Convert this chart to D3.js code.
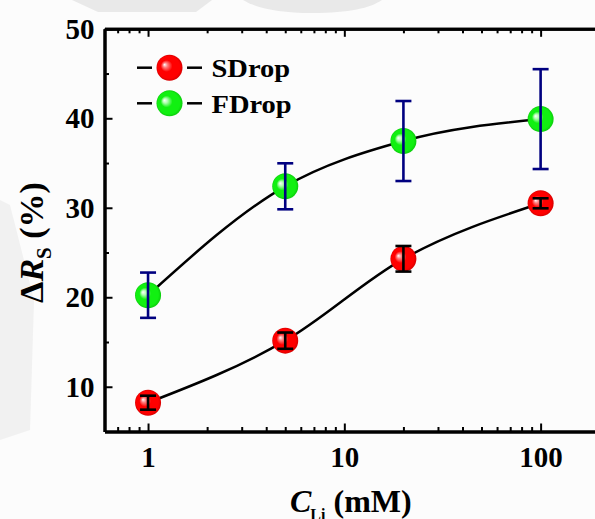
<!DOCTYPE html>
<html>
<head>
<meta charset="utf-8">
<script src="https://cdn.jsdelivr.net/npm/d3@7"></script>
<style>
  html, body { margin: 0; padding: 0; background: #fcfcfc; }
  svg { display: block; }
  text { font-family: "Liberation Serif", "Times New Roman", serif; font-weight: bold; fill: #000; }
</style>
</head>
<body>
<svg id="chart" width="595" height="519"></svg>
<script>
// Li concentration (mM) and the relative change of the sheet resistance (%)
const concentrations = [1, 5, 20, 100];
const sdropValues = [8.22, 15.15, 24.3, 30.5];
const sdropErrors = [0.78, 0.91, 1.43, 0.56];
const fdropValues = [20.23, 32.4, 37.46, 39.91];
const fdropErrors = [2.53, 2.57, 4.47, 5.58];
const seriesNames = ["SDrop", "FDrop"];
const xTickValues = [1, 10, 100];
const xMinorTicks = [0.7, 0.8, 0.9, 2, 3, 4, 5, 6, 7, 8, 9, 20, 30, 40, 50, 60, 70, 80, 90];
const yTickValues = [10, 20, 30, 40, 50];
const yMinorTicks = [15, 25, 35, 45];

const plotLeft = 104.5, plotRight = 599.7, plotTop = 28.8, plotBottom = 431.5;

const svg = d3.select("#chart");

// faint backdrop shapes behind the plot
const backdrop = svg.append("g").attr("fill", "#e9e9e9");
backdrop.append("path").attr("d", "M72,0 L212,0 L196,12 L98,12 Z");
backdrop.append("path").attr("d", "M243,0 L382,0 C370,8 350,13 312,13 C278,13 256,8 243,0 Z");
backdrop.append("path").attr("d", "M0,200 L10,205 L34,300 L30,430 L0,440 Z").attr("opacity", 0.6);

const x = d3.scaleLog().domain([0.6, 200]).range([plotLeft, plotRight]);
const y = d3.scaleLinear().domain([5, 50]).range([plotBottom, plotTop]);

const fmt = d => String(d);

// sphere shading
const defs = svg.append("defs");
function sphere(id, light, base, edge) {
  const g = defs.append("radialGradient").attr("id", id)
    .attr("cx", "50%").attr("cy", "50%").attr("r", "50%")
    .attr("fx", "30%").attr("fy", "38%");
  g.append("stop").attr("offset", "0%").attr("stop-color", "#ffffff");
  g.append("stop").attr("offset", "18%").attr("stop-color", light);
  g.append("stop").attr("offset", "45%").attr("stop-color", base);
  g.append("stop").attr("offset", "85%").attr("stop-color", base);
  g.append("stop").attr("offset", "100%").attr("stop-color", edge);
}
sphere("ballRed", "#ff8080", "#ff0000", "#d80000");
sphere("ballGreen", "#b0ffb0", "#11f011", "#0ccc0c");

const series = [
  { name: seriesNames[0], values: sdropValues, errors: sdropErrors, fill: "url(#ballRed)", errColor: "#000000" },
  { name: seriesNames[1], values: fdropValues, errors: fdropErrors, fill: "url(#ballGreen)", errColor: "#000080" }
];

// axes: ticks point inward on all sides
function styleAxis(g) {
  g.select(".domain").attr("stroke", "#000").attr("stroke-width", 3);
  g.selectAll(".tick line").attr("stroke", "#000").attr("stroke-width", 2);
  g.selectAll(".tick text").style("font-size", "29px").attr("font-family", null);
}

const xAxis = svg.append("g").attr("transform", `translate(0,${plotBottom})`)
  .call(d3.axisBottom(x).tickValues(xTickValues).tickFormat(fmt).tickSize(-8).tickSizeOuter(0).tickPadding(15));
styleAxis(xAxis);
const xMinor = svg.append("g").attr("transform", `translate(0,${plotBottom})`)
  .call(d3.axisBottom(x).tickValues(xMinorTicks).tickFormat("").tickSize(-4.5).tickSizeOuter(0));
styleAxis(xMinor);

const xTop = svg.append("g").attr("transform", `translate(0,${plotTop})`)
  .call(d3.axisTop(x).tickValues(xTickValues).tickFormat("").tickSize(-8).tickSizeOuter(0));
styleAxis(xTop);
const xTopMinor = svg.append("g").attr("transform", `translate(0,${plotTop})`)
  .call(d3.axisTop(x).tickValues(xMinorTicks).tickFormat("").tickSize(-4.5).tickSizeOuter(0));
styleAxis(xTopMinor);

const yAxis = svg.append("g").attr("transform", `translate(${plotLeft},0)`)
  .call(d3.axisLeft(y).tickValues(yTickValues).tickFormat(fmt).tickSize(-8).tickSizeOuter(0).tickPadding(10));
styleAxis(yAxis);
const yMinor = svg.append("g").attr("transform", `translate(${plotLeft},0)`)
  .call(d3.axisLeft(y).tickValues(yMinorTicks).tickFormat("").tickSize(-4.5).tickSizeOuter(0));
styleAxis(yMinor);

// right frame edge
svg.append("line").attr("x1", plotRight).attr("x2", plotRight).attr("y1", plotTop).attr("y2", plotBottom)
  .attr("stroke", "#000").attr("stroke-width", 3);

// fitted curves
const line = d3.line().x(d => x(d[0])).y(d => y(d[1])).curve(d3.curveMonotoneX);
series.forEach(s => {
  svg.append("path")
    .datum(concentrations.map((c, i) => [c, s.values[i]]))
    .attr("d", line).attr("fill", "none").attr("stroke", "#000").attr("stroke-width", 2.5);
});

// markers and error bars
const R = 13, cap = 8;
series.forEach(s => {
  const g = svg.append("g");
  concentrations.forEach((c, i) => {
    const cx = x(c), cy = y(s.values[i]);
    g.append("circle").attr("cx", cx).attr("cy", cy).attr("r", R).attr("fill", s.fill);
    const y1 = y(s.values[i] + s.errors[i]), y2 = y(s.values[i] - s.errors[i]);
    const eg = g.append("g").attr("stroke", s.errColor).attr("stroke-width", 2.6);
    eg.append("line").attr("x1", cx).attr("x2", cx).attr("y1", y1).attr("y2", y2);
    eg.append("line").attr("x1", cx - cap).attr("x2", cx + cap).attr("y1", y1).attr("y2", y1);
    eg.append("line").attr("x1", cx - cap).attr("x2", cx + cap).attr("y1", y2).attr("y2", y2);
  });
});

// legend
const legendY = [67.7, 103.3];
series.forEach((s, i) => {
  const ly = legendY[i];
  const lg = svg.append("g");
  lg.append("line").attr("x1", 137).attr("x2", 152).attr("y1", ly).attr("y2", ly).attr("stroke", "#000").attr("stroke-width", 2.5);
  lg.append("line").attr("x1", 187).attr("x2", 202).attr("y1", ly).attr("y2", ly).attr("stroke", "#000").attr("stroke-width", 2.5);
  lg.append("circle").attr("cx", 169.5).attr("cy", ly).attr("r", R).attr("fill", s.fill);
  lg.append("text").attr("transform", `translate(211.5,${ly + 9.5}) scale(1.14,1)`)
    .style("font-size", "25px").text(s.name);
});

// axis titles
const yt = svg.append("text")
  .attr("transform", "translate(43,242.5) rotate(-90)")
  .attr("text-anchor", "middle")
  .style("font-size", "34px");
yt.append("tspan").text("Δ");
yt.append("tspan").style("font-style", "italic").text("R");
yt.append("tspan").attr("dy", 8).style("font-size", "21px").text("S");
yt.append("tspan").attr("dy", -8).text(" (%)");

const xt = svg.append("text")
  .attr("x", 290).attr("y", 511.5)
  .style("font-size", "32px");
xt.append("tspan").style("font-style", "italic").text("C");
xt.append("tspan").attr("dx", -1).attr("dy", 8).style("font-size", "16px").text("Li");
xt.append("tspan").attr("dy", -8).text(" (mM)");
</script>
</body>
</html>
